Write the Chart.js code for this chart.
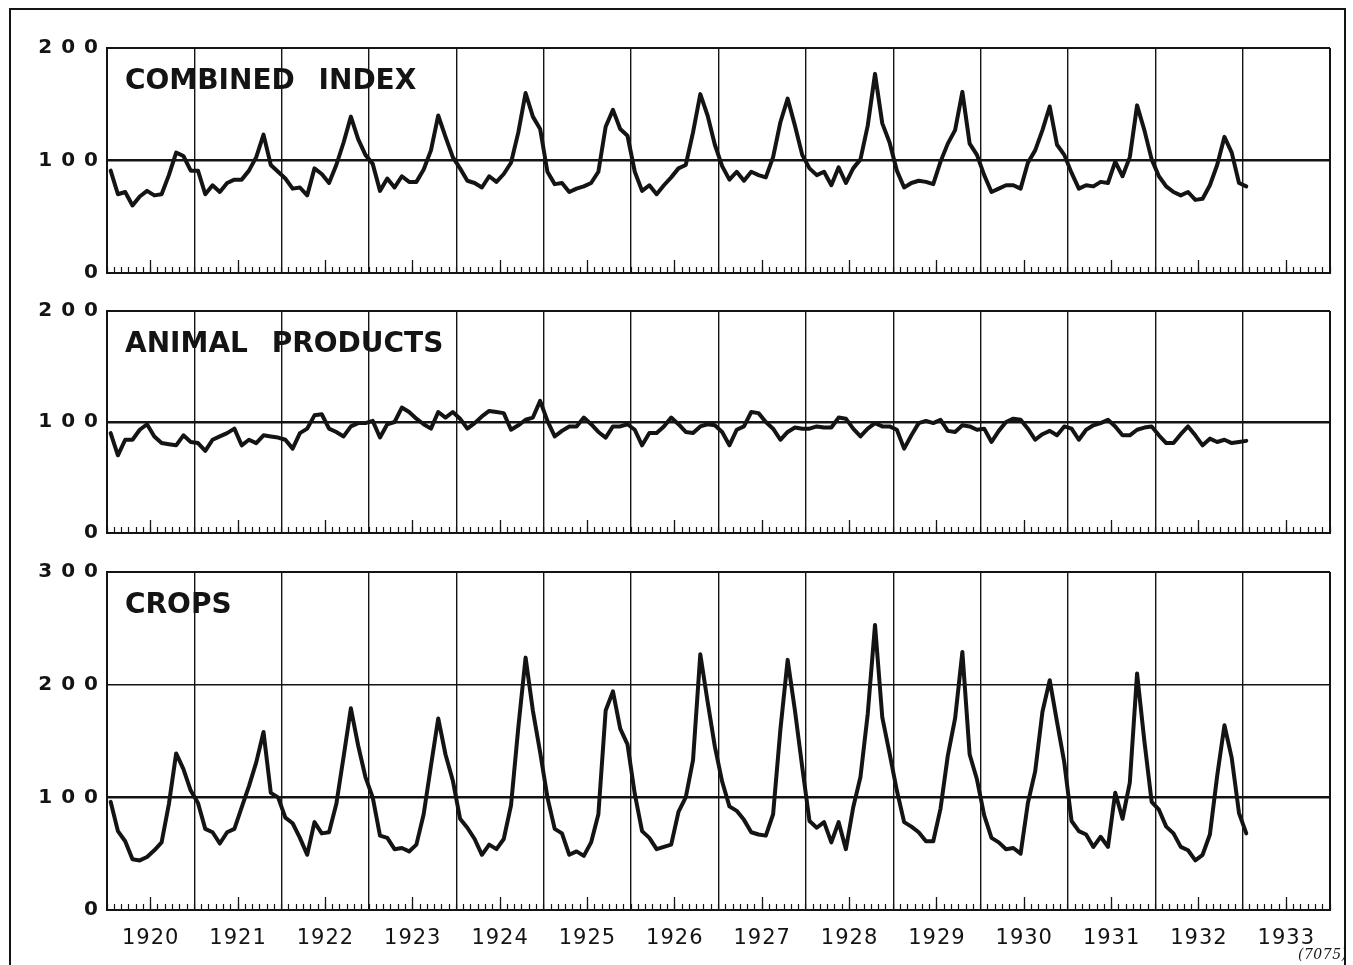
<!DOCTYPE html>
<html>
<head>
<meta charset="utf-8">
<script src="https://cdn.jsdelivr.net/npm/chart.js@4.4.1/dist/chart.umd.min.js"></script>
<style>
  html, body { margin:0; padding:0; background:#ffffff; }
  #wrap { position:relative; width:1353px; height:965px; overflow:hidden; background:#fff; }
  #frame { position:absolute; left:9px; top:8px; width:1337px; height:990px; border:2px solid #141414; box-sizing:border-box; }
  .cv { position:absolute; left:0; }
  #note { position:absolute; left:1298px; top:946px; font: italic 14px "DejaVu Serif", serif; color:#141414; letter-spacing:0.5px; }
</style>
</head>
<body>
<div id="wrap">
  <div id="frame"></div>
  <canvas id="c1" class="cv" width="1353" height="292" style="top:0px"></canvas>
  <canvas id="c2" class="cv" width="1353" height="262" style="top:292px"></canvas>
  <canvas id="c3" class="cv" width="1353" height="411" style="top:554px"></canvas>
  <div id="note">(7075)</div>
</div>
<script>
// ---- data (monthly, Jan 1920 .. Jan 1933) ----
const years = ['1920','1921','1922','1923','1924','1925','1926','1927','1928','1929','1930','1931','1932','1933'];

const combinedIndex = [
  91, 70, 72, 60, 68, 73, 69, 70, 87, 107, 104, 91,
  91, 70, 78, 72, 80, 83, 83, 91, 103, 123, 96, 90,
  84, 75, 76, 69, 93, 88, 80, 96, 116, 139, 119, 105,
  97, 73, 84, 76, 86, 81, 81, 92, 109, 140, 121, 103,
  93, 82, 80, 76, 86, 81, 88, 98, 125, 160, 139, 128,
  90, 79, 80, 72, 75, 77, 80, 90, 130, 145, 128, 122,
  90, 73, 78, 70, 78, 85, 93, 96, 125, 159, 140, 114,
  95, 83, 90, 82, 90, 87, 85, 103, 134, 155, 131, 105,
  93, 87, 90, 78, 94, 80, 93, 101, 131, 177, 133, 116,
  91, 76, 80, 82, 81, 79, 99, 115, 127, 161, 115, 105,
  87, 72, 75, 78, 78, 75, 98, 109, 127, 148, 114, 105,
  89, 75, 78, 77, 81, 80, 99, 86, 103, 149, 127, 101,
  86, 77, 72, 69, 72, 65, 66, 78, 96, 121, 107, 80,
  77
];

const animalProducts = [
  90, 70, 84, 84, 93, 98, 87, 81, 80, 79, 88, 82,
  81, 74, 84, 87, 90, 94, 79, 84, 81, 88, 87, 86,
  84, 76, 90, 94, 106, 107, 94, 91, 87, 96, 99, 99,
  101, 86, 98, 100, 113, 109, 103, 98, 94, 109, 104, 109,
  103, 94, 99, 105, 110, 109, 108, 93, 97, 102, 104, 119,
  101, 87, 92, 96, 96, 104, 98, 91, 86, 96, 96, 98,
  93, 79, 90, 90, 96, 104, 98, 91, 90, 96, 98, 97,
  91, 79, 93, 96, 109, 108, 100, 94, 84, 91, 95, 94,
  94, 96, 95, 95, 104, 103, 94, 87, 94, 99, 96, 96,
  93, 76, 88, 99, 101, 99, 102, 92, 91, 97, 96, 93,
  94, 82, 92, 100, 103, 102, 94, 84, 89, 92, 88, 96,
  94, 84, 93, 97, 99, 102, 96, 88, 88, 93, 95, 96,
  88, 81, 81, 89, 96, 88, 79, 85, 82, 84, 81, 82,
  83
];

const crops = [
  96, 70, 61, 45, 44, 47, 53, 60, 94, 139, 125, 106,
  95, 72, 69, 59, 69, 72, 91, 110, 131, 158, 104, 100,
  82, 77, 64, 49, 78, 68, 69, 94, 136, 179, 146, 118,
  100, 66, 64, 54, 55, 52, 58, 85, 128, 170, 138, 115,
  81, 73, 63, 49, 58, 54, 63, 93, 162, 224, 177, 140,
  100, 72, 68, 49, 52, 48, 60, 85, 177, 194, 161, 147,
  103, 70, 64, 54, 56, 58, 87, 100, 133, 227, 185, 145,
  114, 92, 88, 80, 69, 67, 66, 85, 160, 222, 177, 127,
  79, 73, 78, 60, 78, 54, 91, 118, 174, 253, 171, 139,
  106, 78, 74, 69, 61, 61, 90, 137, 170, 229, 138, 116,
  84, 64, 60, 54, 55, 50, 95, 123, 176, 204, 167, 131,
  79, 70, 67, 56, 65, 56, 104, 81, 113, 210, 150, 96,
  89, 74, 68, 56, 53, 44, 49, 67, 119, 164, 135, 86,
  68
];

const panelTitles = ['COMBINED INDEX', 'ANIMAL PRODUCTS', 'CROPS'];
const yMaxima = [200, 200, 300];
const yStep = 100;

// ---- styling ----
const INK = '#141414';
const MONTHS = years.length * 12;

const titlePlugin = {
  id: 'panelTitle',
  afterDraw(chart, args, opts) {
    const { ctx, chartArea } = chart;
    ctx.save();
    ctx.font = 'bold 28px "DejaVu Sans"';
    ctx.fillStyle = INK;
    ctx.textAlign = 'left';
    ctx.textBaseline = 'alphabetic';
    try { ctx.letterSpacing = '0px'; ctx.wordSpacing = '14px'; } catch (e) {}
    ctx.fillText(opts.text, chartArea.left + 18, chartArea.top + 41);
    ctx.restore();
  }
};

const spacingPlugin = {
  id: 'spacing',
  beforeDraw(chart) { try { chart.ctx.letterSpacing = '9px'; } catch (e) {} },
  afterDatasetsDraw(chart) { try { chart.ctx.letterSpacing = '1px'; } catch (e) {} },
  afterDraw(chart) { try { chart.ctx.letterSpacing = '0px'; } catch (e) {} }
};

function toPoints(arr) { return arr.map((v, i) => ({ x: i + 0.5, y: v })); }

function makeChart(canvasId, series, idx, pad, withLabels) {
  const yMax = yMaxima[idx];
  const scales = {
    x: {
      type: 'linear', min: 0, max: MONTHS, position: 'bottom', weight: 0,
      ticks: { display: false, stepSize: 12, maxTicksLimit: 40 },
      grid: {
        drawOnChartArea: true, drawTicks: false, color: INK,
        lineWidth: (c) => (c.tick && (c.tick.value === 0 || c.tick.value === MONTHS)) ? 2 : 1.4
      },
      border: { display: true, color: INK, width: 2 }
    },
    xm: {
      type: 'linear', min: 0, max: MONTHS, position: 'bottom', weight: 0,
      ticks: { display: false, stepSize: 1, maxTicksLimit: 400, autoSkip: false },
      grid: { drawOnChartArea: false, drawTicks: true, tickLength: -6, tickWidth: 1.2, tickColor: INK },
      border: { display: false },
      afterFit: (s) => { s.height = 0; }
    },
    xh: {
      type: 'linear', min: 0, max: MONTHS, position: 'bottom', weight: 0,
      afterBuildTicks: (s) => { s.ticks = years.map((y, i) => ({ value: i * 12 + 6 })); },
      ticks: { display: false, autoSkip: false },
      grid: { drawOnChartArea: false, drawTicks: true, tickLength: -13, tickWidth: 1.3, tickColor: INK },
      border: { display: false },
      afterFit: (s) => { s.height = 0; }
    },
    y: {
      type: 'linear', min: 0, max: yMax, position: 'left',
      ticks: { stepSize: yStep, padding: 0, color: INK, font: { family: 'DejaVu Sans', size: 20, weight: 'bold' } },
      grid: {
        drawTicks: false, color: INK,
        lineWidth: (c) => {
          if (!c.tick) return 1.4;
          if (c.tick.value === 100) return 2.4;
          if (c.tick.value === yMax) return 2;
          return 1.4;
        }
      },
      border: { display: true, color: INK, width: 2 },
      afterFit: (s) => { s.width = 107; }
    }
  };
  if (withLabels) {
    scales.xl = {
      type: 'linear', min: 0, max: MONTHS, position: 'bottom', weight: 10,
      afterBuildTicks: (s) => { s.ticks = years.map((y, i) => ({ value: i * 12 + 6 })); },
      ticks: {
        display: true, autoSkip: false, maxRotation: 0, minRotation: 0, padding: 16, z: 1,
        color: INK, font: { family: 'DejaVu Sans', size: 21 },
        callback: (v, i) => years[i]
      },
      grid: { display: false, drawTicks: false },
      border: { display: false },
      afterFit: (s) => { s.height = 40; }
    };
  }
  return new Chart(document.getElementById(canvasId), {
    type: 'line',
    data: {
      datasets: [{
        label: panelTitles[idx],
        data: toPoints(series),
        borderColor: INK,
        borderWidth: 4,
        pointRadius: 0,
        fill: false,
        tension: 0,
        borderJoinStyle: 'round',
        borderCapStyle: 'round'
      }]
    },
    options: {
      responsive: false,
      animation: false,
      events: [],
      layout: { padding: pad },
      scales: scales,
      plugins: {
        legend: { display: false },
        tooltip: { enabled: false },
        title: { display: false },
        panelTitle: { text: panelTitles[idx] }
      }
    },
    plugins: [spacingPlugin, titlePlugin]
  });
}

makeChart('c1', combinedIndex, 0, { top: 48, bottom: 19, left: 0, right: 23 }, false);
makeChart('c2', animalProducts, 1, { top: 19, bottom: 21, left: 0, right: 23 }, false);
makeChart('c3', crops, 2, { top: 18, bottom: 15, left: 0, right: 23 }, true);
</script>
</body>
</html>
